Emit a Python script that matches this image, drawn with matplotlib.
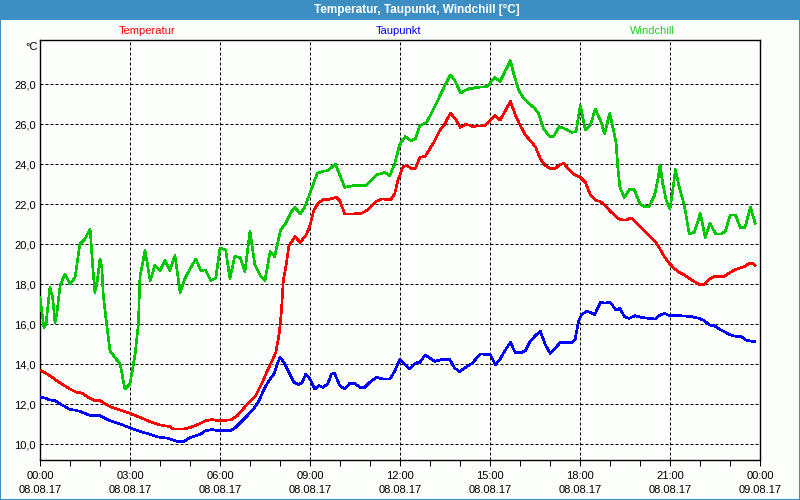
import matplotlib
matplotlib.use("Agg")
import matplotlib.pyplot as plt
from matplotlib.patches import Rectangle
from matplotlib.ticker import FixedLocator, FuncFormatter

# ---------------- data (hours since 08.08.17 00:00, °C) ----------------
t_temp = [0.00, 0.33, 0.67, 1.00, 1.22, 1.39, 1.61, 1.83, 2.00, 2.33, 2.67, 3.00, 3.33, 3.67, 4.00, 4.33, 4.44,
          4.80, 5.02, 5.30, 5.52, 5.74, 5.91, 6.36, 6.58, 6.80, 6.97, 7.19, 7.41, 7.58, 7.74, 7.86, 7.97, 8.04,
          8.11, 8.19, 8.30, 8.50, 8.67, 8.86, 9.00, 9.13, 9.30, 9.47,
          9.60, 9.88, 9.99, 10.16, 10.38, 10.71, 10.88, 11.04, 11.21, 11.38, 11.69, 11.82, 11.93, 12.10, 12.21,
          12.38, 12.51, 12.66, 12.84, 12.99, 13.16, 13.32, 13.47, 13.68, 13.84, 14.01, 14.18, 14.32,
          14.40, 14.84, 15.16, 15.34, 15.68, 15.84, 16.01, 16.18, 16.34, 16.51, 16.68, 16.84, 17.01, 17.18,
          17.31, 17.46, 17.62, 17.79, 18.01, 18.18, 18.34, 18.51, 18.68, 18.84, 19.01,
          19.20, 19.33, 19.53, 19.70, 19.87, 20.03, 20.26, 20.48, 20.64, 20.81, 20.98, 21.14, 21.31, 21.48,
          21.64, 21.81, 21.98, 22.14, 22.31, 22.48, 22.81, 22.98, 23.14, 23.31, 23.48, 23.64, 23.76, 23.84]
temperatur = [13.70, 13.42, 13.05, 12.75, 12.58, 12.55, 12.33, 12.17, 12.17, 11.87, 11.70, 11.53, 11.33, 11.12,
              10.95, 10.87, 10.75,
              10.75, 10.83, 11.00, 11.17, 11.22, 11.17, 11.20, 11.42, 11.80, 12.08, 12.42, 13.08, 13.67, 14.17,
              14.58, 15.50, 16.50, 18.17, 18.83, 19.92, 20.37, 20.08, 20.42, 20.92, 21.70, 22.08, 22.25,
              22.22, 22.33, 22.17, 21.50, 21.50, 21.53, 21.67, 21.88, 22.13, 22.25, 22.22, 22.50, 23.17, 23.87,
              23.92, 23.78, 23.78, 24.33, 24.38, 24.75, 25.17, 25.67, 25.95, 26.53, 26.28, 25.83, 25.97, 25.95,
              25.88, 25.92, 26.42, 26.20, 27.13, 26.47, 25.92, 25.45, 25.17, 24.87, 24.25, 23.92, 23.78, 23.78,
              23.95, 24.03, 23.75, 23.50, 23.33, 23.08, 22.47, 22.20, 22.12, 21.92, 21.63,
              21.38, 21.22, 21.20, 21.30, 21.08, 20.83, 20.50, 20.17, 19.83, 19.37, 19.03, 18.78, 18.58, 18.45,
              18.28, 18.12, 17.97, 17.97, 18.25, 18.38, 18.38, 18.55, 18.70, 18.78, 18.87, 19.03, 19.03, 18.92]

t_dew = [0.00, 0.17, 0.33, 0.50, 0.67, 0.83, 1.00, 1.17, 1.33, 1.50, 1.67, 2.00, 2.17, 2.33, 2.67, 2.89, 3.11,
         3.33, 3.56, 3.78, 4.00, 4.22, 4.39, 4.56,
         4.80, 4.97, 5.19, 5.36, 5.52, 5.74, 5.91, 6.36, 6.52, 6.69, 6.91, 7.13, 7.30, 7.47, 7.63, 7.80, 7.91,
         8.00, 8.13, 8.30, 8.47, 8.63, 8.74, 8.86, 9.00, 9.16, 9.30, 9.44,
         9.60, 9.71, 9.82, 9.99, 10.16, 10.32, 10.49, 10.66, 10.82, 10.99, 11.21, 11.43, 11.66, 11.82, 11.99,
         12.16, 12.32, 12.51, 12.66, 12.84, 12.99, 13.16, 13.38, 13.66, 13.82, 13.99, 14.16,
         14.40, 14.68, 15.01, 15.18, 15.34, 15.51, 15.68, 15.84, 16.07, 16.18, 16.34, 16.51, 16.68, 16.84,
         17.01, 17.18, 17.34, 17.73, 17.84, 17.96, 18.07, 18.23, 18.34, 18.49, 18.68, 18.84, 19.01,
         19.20, 19.33, 19.48, 19.64, 19.84, 20.03, 20.31, 20.51, 20.64, 20.81, 20.98, 21.31, 21.70, 21.98,
         22.14, 22.31, 22.48, 22.64, 22.81, 22.98, 23.20, 23.37, 23.53, 23.76, 23.84]
taupunkt = [12.33, 12.30, 12.20, 12.17, 12.00, 11.88, 11.72, 11.70, 11.63, 11.53, 11.42, 11.42, 11.28, 11.17,
            11.00, 10.87, 10.75, 10.63, 10.53, 10.42, 10.33, 10.30, 10.22, 10.13,
            10.13, 10.30, 10.42, 10.50, 10.67, 10.72, 10.67, 10.67, 10.83, 11.08, 11.42, 11.78, 12.17, 12.75,
            13.17, 13.50, 14.00, 14.33, 14.08, 13.58, 13.08, 12.97, 13.08, 13.50, 13.25, 12.75, 12.92, 12.83,
            13.03, 13.50, 13.53, 12.92, 12.75, 13.03, 13.03, 12.83, 12.83, 13.08, 13.33, 13.25, 13.25, 13.63,
            14.22, 13.97, 13.75, 14.05, 14.08, 14.45, 14.30, 14.13, 14.22, 14.22, 13.80, 13.62, 13.80,
            14.03, 14.50, 14.47, 13.97, 14.25, 14.70, 15.08, 14.58, 14.58, 14.67, 15.13, 15.42, 15.63, 14.97,
            14.53, 14.80, 15.08, 15.08, 15.25, 16.17, 16.50, 16.63, 16.58, 16.47, 17.08, 17.05, 17.08,
            16.70, 16.78, 16.37, 16.28, 16.42, 16.33, 16.28, 16.25, 16.42, 16.53, 16.42, 16.42, 16.37, 16.28,
            16.17, 15.95, 15.92, 15.75, 15.62, 15.47, 15.38, 15.37, 15.20, 15.12, 15.12]

t_wind = [0.00, 0.13, 0.20, 0.33, 0.42, 0.50, 0.56, 0.67, 0.83, 1.00, 1.17, 1.33, 1.50, 1.67, 1.76, 1.83, 1.91,
          2.00, 2.06, 2.11, 2.22, 2.33, 2.50, 2.67, 2.83, 3.00, 3.17, 3.28, 3.33, 3.50, 3.56, 3.67, 3.83, 4.00,
          4.17, 4.33, 4.50, 4.67,
          4.80, 4.97, 5.19, 5.36, 5.52, 5.69, 5.86, 6.00, 6.19, 6.33, 6.49, 6.67, 6.83, 7.00, 7.16, 7.33, 7.50,
          7.67, 7.82, 8.02, 8.19, 8.36, 8.50, 8.67, 8.82, 9.02, 9.24, 9.41,
          9.60, 9.84, 9.99, 10.16, 10.32, 10.49, 10.88, 11.04, 11.21, 11.49, 11.66, 11.82, 11.99, 12.18, 12.36,
          12.51, 12.66, 12.88, 12.99, 13.16, 13.32, 13.49, 13.68, 13.82, 14.02, 14.16, 14.32,
          14.40, 14.57, 14.90, 15.16, 15.34, 15.51, 15.68, 15.79, 15.96, 16.12, 16.29, 16.46, 16.62, 16.79,
          16.98, 17.12, 17.31, 17.51, 17.73, 17.87, 18.01, 18.18, 18.34, 18.51, 18.68, 18.82, 18.99, 19.12,
          19.20, 19.26, 19.33, 19.48, 19.64, 19.81, 20.00, 20.14, 20.31, 20.48, 20.59, 20.67, 20.76, 20.87,
          21.00, 21.09, 21.18, 21.31, 21.48, 21.64, 21.81, 22.01, 22.17, 22.33, 22.53, 22.70, 22.84, 23.01,
          23.18, 23.34, 23.50, 23.68, 23.84]
windchill = [17.33, 15.83, 16.00, 17.83, 17.33, 16.08, 16.50, 17.92, 18.50, 18.00, 18.33, 20.00, 20.25, 20.75,
             18.83, 17.58, 18.17, 19.25, 18.83, 17.42, 16.00, 14.67, 14.33, 14.00, 12.75, 13.00, 14.50, 16.00,
             18.33, 19.67, 19.17, 18.17, 18.92, 18.67, 19.17, 18.67, 19.42, 17.58,
             18.17, 18.67, 19.25, 18.67, 18.70, 18.17, 18.30, 19.80, 19.70, 18.28, 19.37, 19.33, 18.63, 20.63,
             18.97, 18.45, 18.17, 19.63, 19.37, 20.70, 21.03, 21.58, 21.83, 21.50, 21.83, 22.63, 23.53, 23.63,
             23.67, 24.00, 23.47, 22.83, 22.88, 22.93, 22.93, 23.17, 23.45, 23.58, 23.42, 24.00, 24.97, 25.37,
             25.17, 25.25, 25.92, 26.08, 26.37, 26.87, 27.37, 27.92, 28.45, 28.20, 27.55, 27.67, 27.77,
             27.78, 27.83, 27.87, 28.33, 28.13, 28.67, 29.17, 28.50, 27.67, 27.30, 27.03, 26.83, 26.53, 25.75,
             25.38, 25.38, 25.87, 25.75, 25.58, 25.63, 26.92, 25.70, 25.92, 26.75, 26.17, 25.53, 26.53, 25.67,
             25.10, 23.83, 22.83, 22.33, 22.72, 22.72, 22.00, 21.88, 21.88, 22.42, 23.17, 23.95, 23.00, 22.20,
             21.75, 22.67, 23.72, 22.83, 21.92, 20.50, 20.58, 21.53, 20.33, 21.03, 20.50, 20.50, 20.63, 21.45,
             21.45, 20.83, 20.83, 21.83, 21.03]

series_names = ["Temperatur", "Taupunkt", "Windchill"]
title_text = "Temperatur, Taupunkt, Windchill [°C]"
x_ticks = [0, 3, 6, 9, 12, 15, 18, 21, 24]
x_tick_labels = ["00:00\n08.08.17", "03:00\n08.08.17", "06:00\n08.08.17", "09:00\n08.08.17",
                 "12:00\n08.08.17", "15:00\n08.08.17", "18:00\n08.08.17", "21:00\n08.08.17",
                 "00:00\n09.08.17"]
y_ticks = [10, 12, 14, 16, 18, 20, 22, 24, 26, 28]

# ---------------- styling ----------------
plt.rcParams['font.family'] = ['Liberation Sans', 'DejaVu Sans']
BAR = '#3d8fc3'
RED, BLUE, GREEN = '#ff0000', '#0000ff', '#00c800'
PX = 0.72  # one pixel in points at 100 dpi

fig = plt.figure(figsize=(8, 5), dpi=100)
fig.patch.set_facecolor('#fcfefc')

# title bar
fig.patches.append(Rectangle((0, 0.96), 1, 0.04, transform=fig.transFigure,
                             facecolor=BAR, edgecolor='none', zorder=0))
# blue frame
fig.patches.append(Rectangle((0.0006, 0.001), 0.9988, 0.998, transform=fig.transFigure,
                             facecolor='none', edgecolor=BAR, linewidth=1.5, zorder=5))
fig.text(417 / 800, 1 - 10 / 500, title_text, color='white', fontsize=8.5, fontweight='bold',
         ha='center', va='center')

ax = fig.add_axes([40 / 800, 40 / 500, 720 / 800, 420 / 500])
ax.set_facecolor('#fcfefc')

LW = 1.15
ax.plot(t_temp, temperatur, color=RED, lw=LW, antialiased=False, zorder=3)
ax.plot(t_dew, taupunkt, color=BLUE, lw=LW, antialiased=False, zorder=3)
ax.plot(t_wind, windchill, color=GREEN, lw=LW, antialiased=False, zorder=3)

ax.set_xlim(0, 24)
ax.set_ylim(9.2, 30.2)

ax.xaxis.set_major_locator(FixedLocator(x_ticks))
ax.xaxis.set_minor_locator(FixedLocator(list(range(0, 25))))
ax.set_xticklabels(x_tick_labels, fontsize=8, linespacing=1.5)
ax.yaxis.set_major_locator(FixedLocator(y_ticks))
ax.yaxis.set_major_formatter(FuncFormatter(lambda v, p: f"{v:.1f}".replace('.', ',')))
ax.tick_params(axis='y', length=0, pad=3, labelsize=8)
ax.tick_params(axis='x', which='both', direction='out', length=4, width=PX, pad=4, color='black')

ax.grid(True, which='major', color='black', linestyle=(0, (3, 2)), linewidth=PX)
for s in ax.spines.values():
    s.set_color('black')
    s.set_linewidth(1.0)

fig.text(38 / 800, 1 - 47 / 500, "°C", fontsize=8, ha='right', va='center')

# series labels above the plot
for name, col, xc in zip(series_names, [RED, BLUE, '#22cc22'], [147, 399, 652]):
    fig.text(xc / 800, 1 - 31 / 500, name, color=col, fontsize=8, ha='center', va='center')

fig.savefig('out.png', dpi=100, facecolor=fig.get_facecolor())
